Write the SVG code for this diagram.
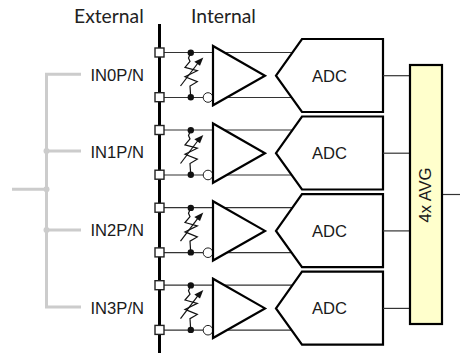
<svg xmlns="http://www.w3.org/2000/svg" width="460" height="353" viewBox="0 0 460 353">
<style>
text{font-family:"Liberation Sans",Arial,sans-serif;fill:#1a1a1a;font-size:16.6px}
.hd{font-family:Lato,"Open Sans",sans-serif;font-size:19.300px;fill:#222}
.gray{stroke:#ccc;stroke-width:3;fill:none}
.thin{stroke:#333;stroke-width:1.2;fill:none}
.thick{stroke:#000;stroke-width:2.200;fill:#fff}
.sq{stroke:#222;stroke-width:1.4;fill:#fff}
.res{stroke:#111;stroke-width:1.2;fill:none}
.dot{fill:#111}
.bub{stroke:#222;stroke-width:1;fill:#fff}
</style>
<defs>
<g id="channel">
<path class="thin" d="M164 52.500H293M164 97.500H293"/>
<path class="res" d="M190.700 52.700L188.500 58L190 61.500L185 67.300L197.300 70.700L185 76.700L197.300 81.700L190 86L190.700 97"/>
<path class="res" d="M180.500 86L198 63"/>
<path class="dot" d="M203.300 57.400L194.300 61.700L200 65.700Z"/>
<circle class="dot" cx="190.800" cy="52.700" r="3.200"/>
<circle class="dot" cx="190.800" cy="97.200" r="3.200"/>
<circle class="bub" cx="208" cy="97.500" r="4.800"/>
<path class="thick" d="M213 46V105.300L265 75.700Z"/>
<rect class="sq" x="155" y="48" width="9" height="9"/>
<rect class="sq" x="155" y="92.700" width="9" height="9"/>
<path class="thick" d="M276 75.700L302 39H383V112H302Z"/>
<path class="thin" d="M383 75.700H410"/>
<text x="329.500" y="81.500" text-anchor="middle">ADC</text>
</g>
</defs>
<g id="connectors">
<path class="gray" d="M81 74.300H46.500V307H81M46.500 151H81M46.500 230H81M12 189.300H46.500"/>
<circle cx="46.500" cy="151" r="3" fill="#ccc"/>
<circle cx="46.500" cy="189.300" r="3" fill="#ccc"/>
<circle cx="46.500" cy="230" r="3" fill="#ccc"/>
<path d="M159.500 24V353" stroke="#000" stroke-width="3" fill="none"/>
<path class="thin" d="M442 194.500H460"/>
</g>
<text class="hd" x="74" y="22.500">External</text>
<text class="hd" x="191" y="22.500">Internal</text>
<g id="in0"><text x="90.500" y="80.500">IN0P/N</text></g>
<g id="in1"><text x="90.500" y="157.500">IN1P/N</text></g>
<g id="in2"><text x="90.500" y="235.700">IN2P/N</text></g>
<g id="in3"><text x="90.500" y="314">IN3P/N</text></g>
<g id="ch0"><use href="#channel"/></g>
<g id="ch1"><use href="#channel" y="77.500"/></g>
<g id="ch2"><use href="#channel" y="155.200"/></g>
<g id="ch3"><use href="#channel" y="232.700"/></g>
<g id="avg">
<rect x="410" y="65" width="32" height="259" fill="#ffffcc" stroke="#000" stroke-width="2.200"/>
<text transform="translate(431 195) rotate(-90)" text-anchor="middle">4x AVG</text>
</g>
</svg>
